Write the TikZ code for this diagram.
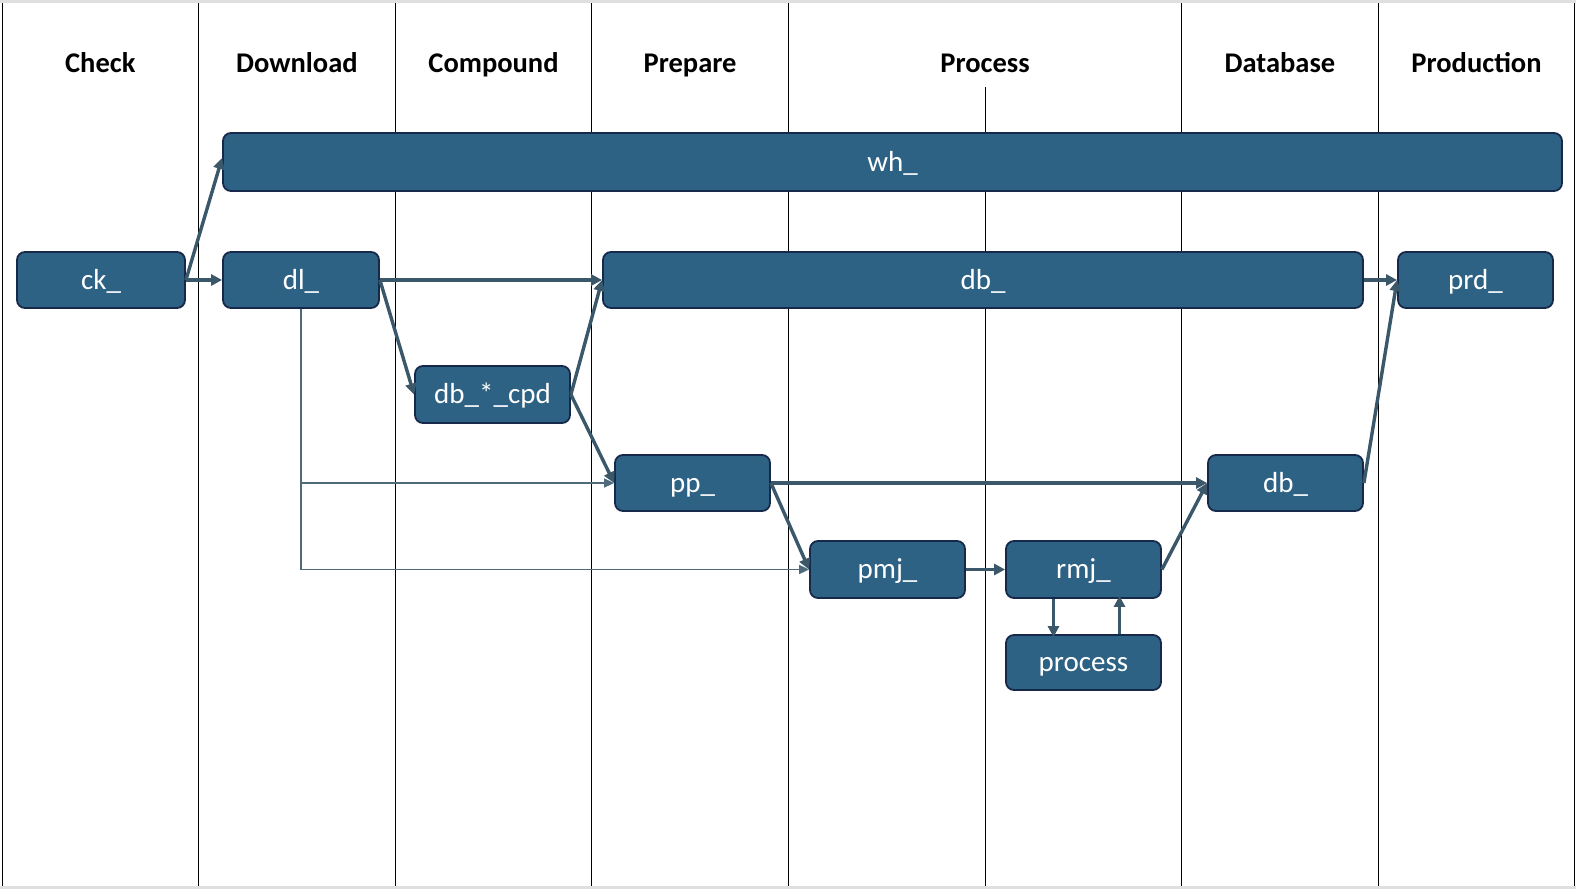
\documentclass[tikz,border=0pt]{standalone}
\usepackage{fontspec}
\setmainfont{Carlito}
\usetikzlibrary{arrows.meta}
\definecolor{boxfill}{HTML}{2E6285}
\definecolor{boxline}{HTML}{17294A}
\definecolor{flowline}{HTML}{3A5869}
\definecolor{feedline}{HTML}{4E6A7B}

\begin{document}
\begin{tikzpicture}[x=1pt,y=-1pt,
  job/.style={draw=boxline,line width=1.8pt,fill=boxfill,rounded corners=8pt,text=white,
    minimum width=155pt,minimum height=56pt,inner sep=0pt,text height=20pt,text depth=2pt,
    font=\fontsize{29}{33}\selectfont},
  lane/.style={anchor=base,font=\bfseries\fontsize{28.5}{32}\selectfont},
  flow/.style={draw=flowline,line width=3.4pt,-{Triangle[length=11pt,width=11pt]}},
  feed/.style={draw=feedline,line width=1.6pt,-{Triangle[length=10pt,width=9pt]}}]
\useasboundingbox (0,0) rectangle (1576,889);
\fill[gray!25] (0,0) rectangle (1576,3);
\fill[gray!25] (0,886) rectangle (1576,889);

% swim lanes
\draw[line width=1pt] (2,3) -- (2,886);
\draw[line width=1pt] (198.6,3) -- (198.6,886);
\draw[line width=1pt] (395.2,3) -- (395.2,886);
\draw[line width=1pt] (591.8,3) -- (591.8,886);
\draw[line width=1pt] (788.4,3) -- (788.4,886);
\draw[line width=1pt] (985,87) -- (985,886);
\draw[line width=1pt] (1181.6,3) -- (1181.6,886);
\draw[line width=1pt] (1378.2,3) -- (1378.2,886);
\draw[line width=1pt] (1574.8,3) -- (1574.8,886);

\node[lane] (hCheck) at (100.3,72) {Check};
\node[lane] (hDownload) at (296.9,72) {Download};
\node[lane] (hCompound) at (493.5,72) {Compound};
\node[lane] (hPrepare) at (690.1,72) {Prepare};
\node[lane] (hProcess) at (985,72) {Process};
\node[lane] (hDatabase) at (1279.9,72) {Database};
\node[lane] (hProduction) at (1476.5,72) {Production};

% jobs
\node[job,minimum width=1339pt,minimum height=58pt] (wh) at (892.5,162) {wh\_};
\node[job,minimum width=168pt] (ck) at (101,280) {ck\_};
\node[job,minimum width=156pt] (dl) at (301,280) {dl\_};
\node[job,minimum width=760pt] (dbA) at (983,280) {db\_};
\node[job] (prd) at (1475.5,280) {prd\_};
\node[job,minimum height=57pt] (cpd) at (492.5,394.5) {db\_*\_cpd};
\node[job] (pp) at (692.5,483) {pp\_};
\node[job] (dbB) at (1285.5,483) {db\_};
\node[job,minimum height=57pt] (pmj) at (887.5,569.5) {pmj\_};
\node[job,minimum height=57pt] (rmj) at (1083.5,569.5) {rmj\_};
\node[job,minimum height=55pt] (proc) at (1083.5,662.5) {process};

% flows
\draw[flow] (ck.east) -- ([yshift=4pt]wh.west);
\draw[flow] (ck.east) -- (dl.west);
\draw[flow] (dl.east) -- (dbA.west);
\draw[flow] (dl.east) -- (cpd.west);
\draw[flow] (cpd.east) -- (dbA.west);
\draw[flow] (cpd.east) -- (pp.west);
\draw[feed] (dl.south) |- (pp.west);
\draw[feed] (dl.south) |- (pmj.west);
\draw[flow] (pp.east) -- (dbB.west);
\draw[flow] (pp.east) -- (pmj.west);
\draw[flow] (pmj.east) -- (rmj.west);
\draw[flow] (rmj.east) -- (dbB.west);
\draw[flow] ([xshift=-30pt]rmj.south) -- ([xshift=-30pt,yshift=-3pt]proc.north);
\draw[flow] ([xshift=36pt]proc.north) -- ([xshift=36pt,yshift=3pt]rmj.south);
\draw[flow] (dbA.east) -- (prd.west);
\draw[flow] (dbB.east) -- (prd.west);
\end{tikzpicture}
\end{document}
